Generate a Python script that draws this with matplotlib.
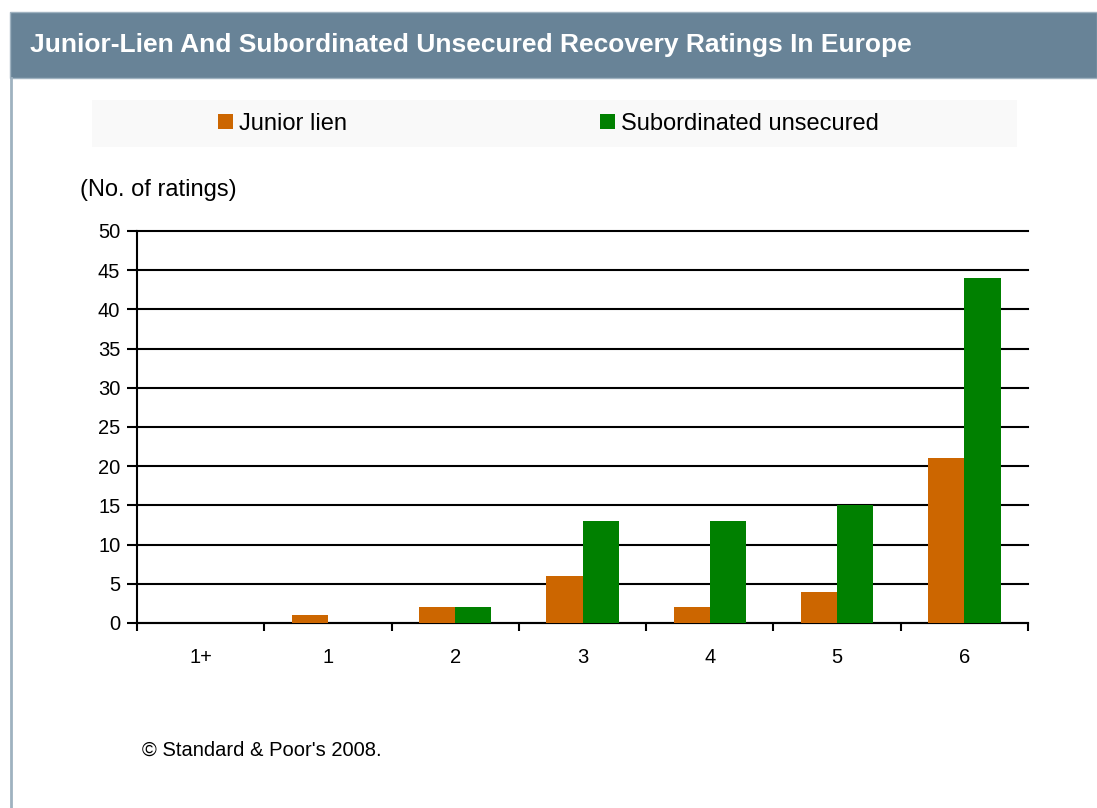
import numpy as np
import matplotlib.pyplot as plt
from matplotlib.patches import Rectangle

plt.rcParams['font.family'] = ['Liberation Sans', 'DejaVu Sans']

categories = ["1+", "1", "2", "3", "4", "5", "6"]
junior_lien = [0, 1, 2, 6, 2, 4, 21]
subordinated = [0, 0, 2, 13, 13, 15, 44]

orange = "#cc6600"
green = "#008000"

W, H = 1097, 808
fig = plt.figure(figsize=(W / 100, H / 100), dpi=100)
fig.patch.set_facecolor("white")

# title bar and left border
fig.add_artist(Rectangle((10 / W, 1 - 78 / H), 1 - 10 / W, 66 / H,
                         transform=fig.transFigure, facecolor="#688397",
                         edgecolor="#9fb2c0", lw=1))
fig.add_artist(plt.Line2D([11 / W, 11 / W], [0, 1 - 78 / H],
                          transform=fig.transFigure, color="#9fb2c0", lw=2))
fig.text(30 / W, 1 - 45 / H, "Junior-Lien And Subordinated Unsecured Recovery Ratings In Europe",
         color="white", fontsize=19, fontweight="bold", va="center", ha="left")

# legend box
fig.add_artist(Rectangle((92 / W, 1 - 147 / H), 925 / W, 47 / H,
                         transform=fig.transFigure, facecolor="#f9f9f9",
                         edgecolor="none"))

ax = fig.add_axes([137 / W, 1 - 623 / H, (1028 - 137) / W, (623 - 231) / H])
x = np.arange(len(categories))
bw = 0.285
b1 = ax.bar(x - bw / 2, junior_lien, bw, color=orange, label="Junior lien", zorder=3)
b2 = ax.bar(x + bw / 2, subordinated, bw, color=green, label="Subordinated unsecured", zorder=3)

ax.set_xlim(-0.5, len(categories) - 0.5)
ax.set_ylim(0, 50)
ax.set_yticks(range(0, 51, 5))
ax.tick_params(axis="y", labelsize=14.5, length=7, width=1.5, pad=5)
ax.set_xticks(x)
ax.set_xticklabels(categories, fontsize=14.5)
ax.set_xticks(np.arange(-0.5, len(categories), 1), minor=True)
ax.tick_params(axis="x", which="major", length=0, pad=18)
ax.tick_params(axis="x", which="minor", length=6, width=1.5, direction="out")
ax.yaxis.grid(True, color="black", lw=1.5, zorder=1)
for gl in ax.get_ygridlines():
    gl.set_clip_on(False)
for side in ["top", "right"]:
    ax.spines[side].set_visible(False)
ax.spines["left"].set_linewidth(1.5)
ax.spines["bottom"].set_linewidth(1.5)

for handle, xpos in [(b1, 218), (b2, 600)]:
    leg = fig.legend(handles=[handle], loc="center left",
                     bbox_to_anchor=(xpos / W, 1 - 124 / H), frameon=False,
                     fontsize=17, handlelength=0.62, handleheight=0.62,
                     handletextpad=0.25, borderpad=0, borderaxespad=0)

fig.text(80 / W, 1 - 190 / H, "(No. of ratings)", fontsize=17, va="center", ha="left")
fig.text(142 / W, 1 - 750 / H, "\u00a9 Standard & Poor's 2008.", fontsize=14.5,
         va="center", ha="left")

fig.savefig("out.png", dpi=100)
